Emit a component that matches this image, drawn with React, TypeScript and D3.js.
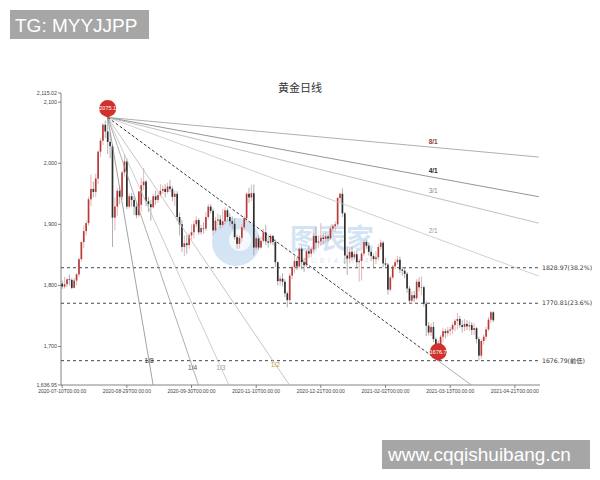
import React from "react";
import * as d3 from "d3";

const title = "黄金日线";
const tickDates = [
  "2020-07-10T00:00:00",
  "2020-08-29T00:00:00",
  "2020-09-30T00:00:00",
  "2020-11-10T00:00:00",
  "2020-12-21T00:00:00",
  "2021-02-02T00:00:00",
  "2021-03-13T00:00:00",
  "2021-04-21T00:00:00",
];
const categoryCount = 200;
const barsPerTick = 27;
const yMin = 1636.95;
const yMax = 2115.02;
const yTicks = [2115.02, 2100, 2000, 1900, 1800, 1700, 1636.95];

// [open, close, low, high]
const candles = [
  [1803, 1798, 1794, 1808], [1798, 1802, 1795, 1814], [1802, 1810, 1797, 1813], [1810, 1809, 1800, 1818],
  [1809, 1796, 1794, 1812], [1796, 1808, 1795, 1812], [1808, 1818, 1800, 1820], [1818, 1843, 1814, 1845],
  [1843, 1871, 1839, 1872], [1871, 1889, 1861, 1898], [1889, 1902, 1882, 1906], [1902, 1941, 1898, 1945],
  [1941, 1958, 1930, 1981], [1958, 1953, 1944, 1970], [1953, 1975, 1945, 1983], [1975, 2019, 1966, 2021],
  [2019, 2037, 2010, 2041], [2037, 2063, 2030, 2066], [2063, 2052, 2041, 2070], [2052, 2035, 2015, 2075.1],
  [2035, 2028, 2008, 2050], [2028, 1911, 1863, 2031], [1911, 1929, 1890, 1944], [1929, 1955, 1914, 1960],
  [1955, 1945, 1933, 1963], [1945, 1985, 1940, 1987], [1985, 2003, 1978, 2015], [2003, 1929, 1925, 2008],
  [1929, 1946, 1926, 1950], [1946, 1940, 1929, 1951], [1940, 1929, 1915, 1946], [1929, 1915, 1910, 1937],
  [1915, 1954, 1912, 1954], [1932, 1964, 1921, 1976], [1964, 1970, 1956, 1992], [1970, 1938, 1930, 1973],
  [1938, 1933, 1920, 1945], [1933, 1928, 1906, 1940], [1928, 1946, 1926, 1950], [1946, 1940, 1932, 1955],
  [1940, 1948, 1935, 1952], [1948, 1955, 1945, 1966], [1955, 1958, 1950, 1964], [1958, 1953, 1944, 1966],
  [1953, 1962, 1950, 1968], [1962, 1958, 1953, 1973], [1958, 1945, 1938, 1962], [1945, 1950, 1930, 1955],
  [1950, 1912, 1905, 1954], [1912, 1900, 1882, 1919], [1900, 1863, 1855, 1907], [1863, 1869, 1848, 1882],
  [1869, 1866, 1852, 1882], [1866, 1882, 1860, 1886], [1882, 1887, 1875, 1900], [1887, 1900, 1877, 1906],
  [1900, 1907, 1895, 1913], [1907, 1887, 1883, 1910], [1887, 1894, 1883, 1899], [1894, 1893, 1885, 1903],
  [1893, 1912, 1889, 1920], [1912, 1929, 1908, 1933], [1929, 1922, 1918, 1933], [1922, 1890, 1882, 1926],
  [1890, 1906, 1886, 1912], [1906, 1908, 1898, 1918], [1908, 1899, 1893, 1915], [1899, 1905, 1895, 1925],
  [1905, 1923, 1900, 1928], [1923, 1912, 1905, 1926], [1912, 1905, 1897, 1918], [1905, 1901, 1892, 1913],
  [1901, 1879, 1875, 1910], [1879, 1868, 1860, 1883], [1868, 1878, 1860, 1882], [1878, 1895, 1872, 1900],
  [1895, 1910, 1890, 1913], [1910, 1950, 1905, 1952], [1950, 1944, 1935, 1960], [1944, 1951, 1938, 1965],
  [1951, 1862, 1849, 1965], [1862, 1877, 1858, 1880], [1877, 1862, 1858, 1882], [1862, 1873, 1860, 1880],
  [1873, 1887, 1870, 1893], [1887, 1872, 1866, 1899], [1872, 1870, 1862, 1880], [1870, 1881, 1867, 1884],
  [1881, 1871, 1866, 1883], [1871, 1838, 1830, 1875], [1838, 1807, 1800, 1839], [1807, 1811, 1800, 1816],
  [1811, 1806, 1798, 1820], [1806, 1787, 1781, 1810], [1787, 1776, 1764, 1790], [1776, 1816, 1773, 1820],
  [1816, 1830, 1810, 1833], [1830, 1840, 1820, 1848], [1840, 1831, 1825, 1845], [1831, 1860, 1828, 1863],
  [1860, 1838, 1826, 1864], [1838, 1833, 1822, 1845], [1833, 1856, 1830, 1858], [1856, 1852, 1845, 1864],
  [1852, 1859, 1846, 1863], [1859, 1881, 1852, 1886], [1881, 1870, 1860, 1896], [1870, 1872, 1862, 1882],
  [1872, 1878, 1865, 1902], [1878, 1876, 1868, 1885], [1876, 1880, 1870, 1887], [1880, 1877, 1871, 1884],
  [1877, 1893, 1874, 1897], [1893, 1897, 1888, 1900], [1897, 1900, 1888, 1905], [1900, 1943, 1897, 1945],
  [1943, 1950, 1936, 1952], [1950, 1918, 1912, 1959], [1918, 1849, 1835, 1920], [1849, 1844, 1817, 1864],
  [1844, 1855, 1836, 1860], [1855, 1846, 1840, 1863], [1846, 1851, 1842, 1856], [1851, 1838, 1830, 1857],
  [1838, 1840, 1806, 1843], [1840, 1852, 1808, 1855], [1852, 1871, 1848, 1875], [1871, 1865, 1860, 1875],
  [1865, 1855, 1849, 1870], [1855, 1848, 1840, 1860], [1848, 1843, 1830, 1852], [1843, 1846, 1835, 1856],
  [1846, 1863, 1841, 1868], [1863, 1870, 1858, 1875], [1870, 1836, 1830, 1873], [1836, 1834, 1828, 1845],
  [1834, 1793, 1785, 1837], [1793, 1813, 1790, 1816], [1813, 1831, 1810, 1834], [1831, 1838, 1826, 1843],
  [1838, 1842, 1834, 1848], [1842, 1826, 1820, 1847], [1826, 1824, 1816, 1830], [1824, 1819, 1812, 1829],
  [1819, 1795, 1788, 1822], [1795, 1775, 1770, 1799], [1775, 1784, 1770, 1790], [1784, 1779, 1773, 1791],
  [1779, 1806, 1776, 1810], [1806, 1797, 1790, 1813], [1797, 1797, 1784, 1815], [1797, 1770, 1765, 1800],
  [1770, 1734, 1717, 1774], [1734, 1723, 1718, 1740], [1723, 1732, 1717, 1738], [1732, 1712, 1707, 1740],
  [1712, 1700, 1691, 1715], [1700, 1683, 1676.7, 1710], [1683, 1716, 1680, 1719], [1716, 1725, 1707, 1730],
  [1725, 1722, 1713, 1729], [1722, 1726, 1716, 1732], [1726, 1728, 1718, 1732], [1728, 1735, 1720, 1739],
  [1735, 1742, 1725, 1745], [1742, 1745, 1728, 1755], [1745, 1735, 1731, 1750], [1735, 1732, 1723, 1743],
  [1732, 1737, 1725, 1745], [1737, 1733, 1727, 1743], [1733, 1735, 1726, 1742], [1735, 1727, 1719, 1740],
  [1727, 1730, 1719, 1738], [1730, 1712, 1705, 1732], [1712, 1685, 1677, 1716], [1685, 1709, 1680, 1712],
  [1709, 1716, 1703, 1720], [1716, 1728, 1710, 1732], [1728, 1744, 1725, 1748], [1744, 1756, 1738, 1758],
  [1756, 1743, 1740, 1758],
];

const highPoint = { index: 19, price: 2075.1, label: "2075.1" };
const lowPoint = { index: 157, price: 1676.7, label: "1676.7" };

const levels = [
  { value: 1828.97, label: "1828.97(38.2%)" },
  { value: 1770.81, label: "1770.81(23.6%)" },
  { value: 1676.79, label: "1676.79(前低)" },
];

// gann fan: label and multiple of the 1x1 slope
const fanUpper = [
  { label: "8/1", ratio: 1 / 8 },
  { label: "4/1", ratio: 1 / 4 },
  { label: "3/1", ratio: 1 / 3 },
  { label: "2/1", ratio: 1 / 2 },
];
const fanLower = [
  { label: "1/2", ratio: 2, at: 1671 },
  { label: "1/3", ratio: 3, at: 1666 },
  { label: "1/4", ratio: 4, at: 1666 },
  { label: "1/8", ratio: 8, at: 1676 },
];

const fanStyle: Record<string, { line: string; text: string; bold?: boolean }> = {
  "8/1": { line: "#9a9a9a", text: "#8e3b3b", bold: true },
  "4/1": { line: "#7a7a7a", text: "#222", bold: true },
  "3/1": { line: "#b0b0b0", text: "#888" },
  "2/1": { line: "#c4c4c4", text: "#999" },
  "1/2": { line: "#b8b8b8", text: "#b5a13a" },
  "1/3": { line: "#c0c0c0", text: "#999" },
  "1/4": { line: "#9a9a9a", text: "#555" },
  "1/8": { line: "#8a8a8a", text: "#333" },
};

const W = 600;
const H = 480;
const left = 61;
const right = 540;
const top = 93;
const bottom = 385;

function pinPath(cx: number, tipY: number, r: number) {
  const cy = tipY - r * 1.05;
  const k = 0.707;
  return `M${cx},${tipY} Q${cx - r * 0.35},${cy + r * 0.95} ${cx - r * k},${cy + r * k} A${r},${r} 0 1 1 ${cx + r * k},${cy + r * k} Q${cx + r * 0.35},${cy + r * 0.95} ${cx},${tipY} Z`;
}

export default function App() {
  const x = d3.scaleBand<number>().domain(d3.range(categoryCount)).range([left, right]);
  const xc = (i: number) => (x(i) as number) + x.bandwidth() / 2;
  const step = x.step();
  const xAt = (i: number) => left + (i + 0.5) * step;
  const y = d3.scaleLinear().domain([yMin, yMax]).range([bottom, top]);
  const fmt = d3.format(",");

  const k = (highPoint.price - lowPoint.price) / (lowPoint.index - highPoint.index);
  const lastIdx = categoryCount - 1;
  const fanEnd = (ratio: number) => {
    const m = k * ratio;
    const iBottom = highPoint.index + (highPoint.price - yMin) / m;
    const i = Math.min(lastIdx, iBottom);
    return { i, p: highPoint.price - m * (i - highPoint.index) };
  };
  const sx = xc(highPoint.index);
  const sy = y(highPoint.price);
  const bodyW = step * 0.7;
  const oneEnd = fanEnd(1);

  return (
    <svg
      width={W}
      height={H}
      style={{ position: "absolute", left: 0, top: 0, background: "#fff" }}
      fontFamily="'Liberation Sans', Arial, sans-serif"
    >
      <text x={300} y={92} textAnchor="middle" fontSize={11} fill="#333" fontFamily="'Noto Sans CJK SC', sans-serif">
        {title}
      </text>

      {/* watermark */}
      <g opacity={0.26} fill="#5b9bd5">
        <circle cx={236} cy={242} r={24} />
        <circle cx={240} cy={240} r={11} fill="#fff" opacity={0.8} />
        <text x={290} y={249} fontSize={28} fontFamily="'Noto Sans CJK SC', sans-serif" fontWeight={700}>
          图表家
        </text>
        <text x={303} y={263} fontSize={6.5} fontStyle="italic" letterSpacing={4}>
          TUBIAOJIA
        </text>
      </g>

      {/* axes */}
      <line x1={left} x2={left} y1={top} y2={bottom} stroke="#666" strokeWidth={0.8} />
      <line x1={left} x2={right} y1={bottom} y2={bottom} stroke="#666" strokeWidth={0.8} />
      {yTicks.map((t) => (
        <g key={t}>
          <line x1={left - 3} x2={left} y1={y(t)} y2={y(t)} stroke="#666" strokeWidth={0.8} />
          <text x={left - 4} y={y(t) + 2} textAnchor="end" fontSize={5.3} fill="#444">
            {fmt(t)}
          </text>
        </g>
      ))}
      {tickDates.map((d, j) => {
        const xi = xAt(j * barsPerTick);
        return (
          <g key={d}>
            <line x1={xi} x2={xi} y1={bottom} y2={bottom + 3} stroke="#666" strokeWidth={0.8} />
            <text x={xi} y={bottom + 8} textAnchor="middle" fontSize={5} fill="#444">
              {d}
            </text>
          </g>
        );
      })}

      {/* levels */}
      {levels.map((l) => (
        <g key={l.label}>
          <line x1={left} x2={right - 2} y1={y(l.value)} y2={y(l.value)} stroke="#333" strokeWidth={0.9} strokeDasharray="3,3" />
          <text x={right + 2} y={y(l.value) + 2.2} fontSize={6.2} fill="#333" fontFamily="'DejaVu Sans', 'Noto Sans CJK SC', sans-serif">
            {l.label}
          </text>
        </g>
      ))}

      {/* candles */}
      {candles.map(([o, c, l, h], i) => {
        const up = c >= o;
        const col = up ? "#b83a3a" : "#2e2e2e";
        const cx = xc(i);
        const y0 = y(Math.max(o, c));
        const y1 = y(Math.min(o, c));
        return (
          <g key={i}>
            <line x1={cx} x2={cx} y1={y(h)} y2={y(l)} stroke={up ? "#d8a5a5" : "#9a9a9a"} strokeWidth={0.8} />
            <rect x={cx - bodyW / 2} y={y0} width={bodyW} height={Math.max(0.6, y1 - y0)} fill={col} />
          </g>
        );
      })}

      {/* gann fan */}
      {[...fanUpper, ...fanLower].map((f) => {
        const e = fanEnd(f.ratio);
        return (
          <line key={f.label} x1={sx} y1={sy} x2={xc(0) + e.i * step} y2={y(e.p)} stroke={fanStyle[f.label].line} strokeWidth={0.8} />
        );
      })}
      <line x1={sx} y1={sy} x2={xc(lowPoint.index)} y2={y(lowPoint.price)} stroke="#222" strokeWidth={0.9} strokeDasharray="3,2" />
      <line x1={xc(lowPoint.index)} y1={y(lowPoint.price)} x2={xc(0) + oneEnd.i * step} y2={y(oneEnd.p)} stroke="#999" strokeWidth={0.8} />
      {fanUpper.map((f) => {
        const li = 153;
        const p = highPoint.price - k * f.ratio * (li - highPoint.index);
        const st = fanStyle[f.label];
        return (
          <text key={f.label} x={xc(li)} y={y(p) - 3} fontSize={6.5} fill={st.text} fontWeight={st.bold ? 700 : 400}>
            {f.label}
          </text>
        );
      })}
      {fanLower.map((f) => {
        const i = highPoint.index + (highPoint.price - f.at) / (k * f.ratio);
        const st = fanStyle[f.label];
        return (
          <text key={f.label} x={xc(0) + i * step} y={y(f.at) + 2.3} fontSize={6.5} textAnchor="middle" fill={st.text}>
            {f.label}
          </text>
        );
      })}

      {/* pins */}
      {[highPoint, lowPoint].map((pt) => {
        const cx = xc(pt.index);
        const tip = y(pt.price);
        const r = 8.5;
        return (
          <g key={pt.label}>
            <path d={pinPath(cx, tip, r)} fill="#d0312d" />
            <text x={cx} y={tip - r * 1.05 + 2} textAnchor="middle" fontSize={5.5} fill="#fff">
              {pt.label}
            </text>
          </g>
        );
      })}

      {/* overlay tags */}
      <rect x={10} y={10} width={139} height={29} fill="#a6a6a6" />
      <text x={15} y={32} fontSize={19} fill="#fff">TG: MYYJJPP</text>
      <rect x={382} y={440} width={208} height={29} fill="#a6a6a6" />
      <text x={388} y={461} fontSize={19} fill="#fff">www.cqqishuibang.cn</text>
    </svg>
  );
}
